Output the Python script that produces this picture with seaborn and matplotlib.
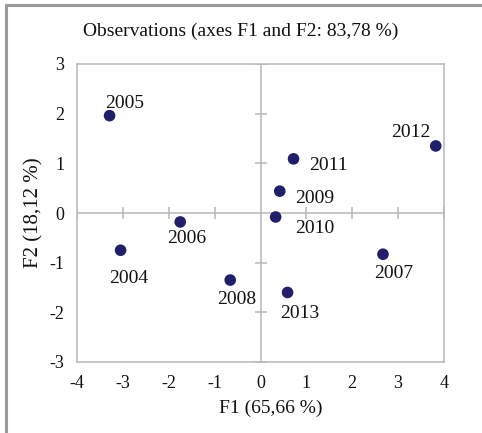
import matplotlib
matplotlib.use("Agg")
import matplotlib.pyplot as plt
import seaborn as sns
import pandas as pd
from matplotlib.lines import Line2D

years = ["2004", "2005", "2006", "2007", "2008", "2009", "2010", "2011", "2012", "2013"]
f1 = [-3.05, -3.29, -1.75, 2.67, -0.66, 0.42, 0.33, 0.72, 3.82, 0.59]
f2 = [-0.75, 1.96, -0.18, -0.83, -1.35, 0.44, -0.08, 1.09, 1.35, -1.60]
# label offsets in points (dx, dy)
label_dx = [6, 11, 5, 8, 5, 25, 28, 25, -18, 9]
label_dy = [-20, 9, -12, -14, -14, -5, -8, -5, 10, -15]
xticks = [-4, -3, -2, -1, 0, 1, 2, 3, 4]
yticks = [-3, -2, -1, 0, 1, 2, 3]

df = pd.DataFrame({"F1": f1, "F2": f2, "year": years})

sns.set_style("white")
plt.rcParams["font.family"] = ["Liberation Serif", "DejaVu Serif"]
plt.rcParams["axes.unicode_minus"] = False

fig = plt.figure(figsize=(4.82, 4.33), dpi=100)
ax = fig.add_axes([77 / 482, 1 - 362 / 433, (444 - 77) / 482, (362 - 64) / 433])

# figure frame lines (left and top)
fig.add_artist(Line2D([6 / 482, 6 / 482], [0, 1 - 5 / 433], transform=fig.transFigure,
                      color="#9a9a9a", lw=2.2))
fig.add_artist(Line2D([6 / 482, 1], [1 - 5 / 433, 1 - 5 / 433], transform=fig.transFigure,
                      color="#9a9a9a", lw=2.2))

ax.axhline(0, color="#b8b8b8", lw=1.1, zorder=1)
ax.axvline(0, color="#b8b8b8", lw=1.1, zorder=1)
# small tick marks on the zero lines
ax.plot([t for t in xticks if t != 0], [0] * (len(xticks) - 1), ls="none", marker="|",
        ms=8, color="#b8b8b8", mew=1.1, zorder=1)
ax.plot([0] * (len(yticks) - 1), [t for t in yticks if t != 0], ls="none", marker="_",
        ms=8, color="#b8b8b8", mew=1.1, zorder=1)

sns.scatterplot(data=df, x="F1", y="F2", ax=ax, color="#1f1f6b", s=70,
                edgecolor="none", zorder=3, legend=False)

for x, y, t, dx, dy in zip(f1, f2, years, label_dx, label_dy):
    ax.annotate(t, (x, y), xytext=(dx, dy), textcoords="offset points",
                ha="center", va="center", fontsize=14, color="#111111")

ax.set_xlim(-4, 4)
ax.set_ylim(-3, 3)
ax.set_xticks(xticks)
ax.set_yticks(yticks)
ax.tick_params(length=0, labelsize=13, pad=9, colors="#111111")
for s in ax.spines.values():
    s.set_color("#b8b8b8")
    s.set_linewidth(1.1)

ax.set_xlabel("F1 (65,66 %)", fontsize=14, color="#111111")
ax.xaxis.set_label_coords(0.529, -0.128)
ax.set_ylabel("F2 (18,12 %)", fontsize=15, labelpad=4, color="#111111")
fig.text(241 / 482, 1 - 31 / 433, "Observations (axes F1 and F2: 83,78 %)", ha="center",
         va="center", fontsize=14, color="#111111")

fig.savefig("out.png", dpi=100)
